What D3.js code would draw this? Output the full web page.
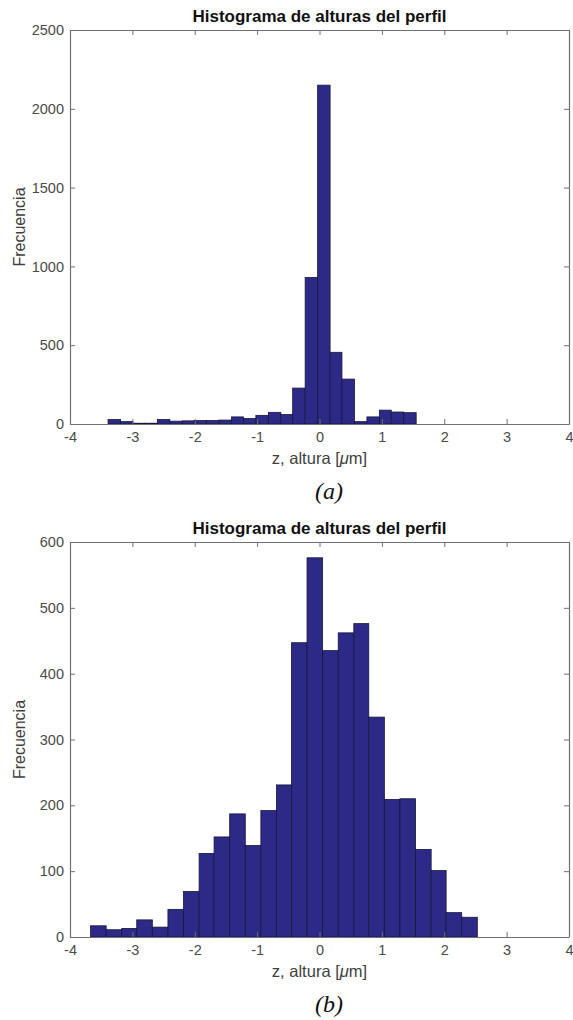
<!DOCTYPE html>
<html>
<head>
<meta charset="utf-8">
<script src="https://cdn.jsdelivr.net/npm/d3@7"></script>
<style>
  body { margin: 0; background: #fff; }
  .tick text { font-family: "Liberation Sans", Arial, sans-serif; font-size: 14.5px; fill: #4a4a4a; }
</style>
</head>
<body>
<div id="chart"></div>
<script>
// bin edges (µm) and counts
const edgesA = [-3.39, -3.19, -2.99, -2.80, -2.60, -2.40, -2.20, -2.01, -1.81, -1.61, -1.41, -1.22, -1.02,
                -0.82, -0.62, -0.43, -0.23, -0.03, 0.17, 0.36, 0.56, 0.76, 0.96, 1.15, 1.35, 1.55];
const countsA = [28, 15, 5, 5, 28, 18, 20, 22, 22, 25, 45, 35, 55, 74, 60, 228, 930, 2150, 455, 285,
                 15, 45, 88, 76, 72];

const edgesB = [-3.67, -3.42, -3.17, -2.93, -2.68, -2.43, -2.18, -1.93, -1.69, -1.44, -1.19, -0.94, -0.69,
                -0.45, -0.20, 0.05, 0.30, 0.55, 0.79, 1.04, 1.29, 1.54, 1.79, 2.03, 2.28, 2.53];
const countsB = [17, 11, 13, 26, 15, 42, 69, 127, 152, 187, 139, 192, 231, 447, 576, 435, 462, 476, 334,
                 209, 210, 133, 101, 37, 30];

const xTicks = [-4, -3, -2, -1, 0, 1, 2, 3, 4];
const yTicksA = [0, 500, 1000, 1500, 2000, 2500];
const yTicksB = [0, 100, 200, 300, 400, 500, 600];

const titleText = 'Histograma de alturas del perfil';
const yLabelText = 'Frecuencia';
const captions = ['(a)', '(b)'];

const W = 573, H = 1020;
const svg = d3.select('#chart').append('svg')
  .attr('width', W)
  .attr('height', H);

// plain hyphen minus and no thousands separator, as in the original
const fmt = d => String(d);

function drawHist(top, bottom, edges, counts, yTicks, caption) {
  const left = 70, right = 569;
  let sx = d3.scaleLinear().domain([-4, 4]).range([left, right]);
  let sy = d3.scaleLinear().domain([0, d3.max(yTicks)]).range([bottom, top]);

  let g = svg.append('g');

  // bars
  g.selectAll('.bar')
    .data(counts.map((c, i) => ({x0: edges[i], x1: edges[i + 1], c: c})))
    .enter()
    .append('rect')
    .attr('class', 'bar')
    .attr('x', d => sx(d.x0))
    .attr('y', d => sy(d.c))
    .attr('width', d => sx(d.x1) - sx(d.x0))
    .attr('height', d => sy(0) - sy(d.c))
    .attr('fill', '#2c2a86')
    .attr('stroke', '#16163f')
    .attr('stroke-width', 0.8);

  // axes, ticks pointing inward like matlab
  let axB = g.append('g').attr('transform', 'translate(0,' + bottom + ')')
    .call(d3.axisBottom(sx).tickValues(xTicks).tickFormat(fmt).tickSize(-5).tickSizeOuter(0).tickPadding(8));
  let axT = g.append('g').attr('transform', 'translate(0,' + top + ')')
    .call(d3.axisTop(sx).tickValues(xTicks).tickSize(-5).tickSizeOuter(0).tickFormat(''));
  let axL = g.append('g').attr('transform', 'translate(' + left + ',0)')
    .call(d3.axisLeft(sy).tickValues(yTicks).tickFormat(fmt).tickSize(-5).tickSizeOuter(0).tickPadding(6));
  let axR = g.append('g').attr('transform', 'translate(' + right + ',0)')
    .call(d3.axisRight(sy).tickValues(yTicks).tickSize(-5).tickSizeOuter(0).tickFormat(''));

  [axB, axT, axL, axR].forEach(a => {
    a.select('.domain').attr('stroke', '#707070').attr('stroke-width', 1.2);
    a.selectAll('.tick line').attr('stroke', '#707070');
  });

  // title
  g.append('text')
    .attr('x', (left + right) / 2)
    .attr('y', top - 8)
    .attr('text-anchor', 'middle')
    .style('font-family', '"Liberation Sans", Arial, sans-serif')
    .style('font-weight', 'bold')
    .style('font-size', '17px')
    .attr('fill', '#111')
    .text(titleText);

  // x label with italic mu
  let xl = g.append('text')
    .attr('x', (left + right) / 2)
    .attr('y', bottom + 40)
    .attr('text-anchor', 'middle')
    .style('font-family', '"Liberation Sans", Arial, sans-serif')
    .style('font-size', '16.5px')
    .attr('fill', '#404040');
  xl.append('tspan').text('z, altura [');
  xl.append('tspan').style('font-style', 'italic').text('\u03bc');
  xl.append('tspan').text('m]');

  // y label
  let cy = (top + bottom) / 2;
  g.append('text')
    .attr('transform', 'translate(25,' + cy + ') rotate(-90)')
    .attr('text-anchor', 'middle')
    .style('font-family', '"Liberation Sans", Arial, sans-serif')
    .style('font-size', '16px')
    .attr('fill', '#404040')
    .text(yLabelText);

  // caption under the plot
  g.append('text')
    .attr('x', 329)
    .attr('y', bottom + 75)
    .attr('text-anchor', 'middle')
    .style('font-family', '"Liberation Serif", "Times New Roman", serif')
    .style('font-style', 'italic')
    .style('font-size', '24px')
    .attr('fill', '#111')
    .text(caption);
}

drawHist(30, 424, edgesA, countsA, yTicksA, captions[0]);
drawHist(542, 937, edgesB, countsB, yTicksB, captions[1]);
</script>
</body>
</html>
